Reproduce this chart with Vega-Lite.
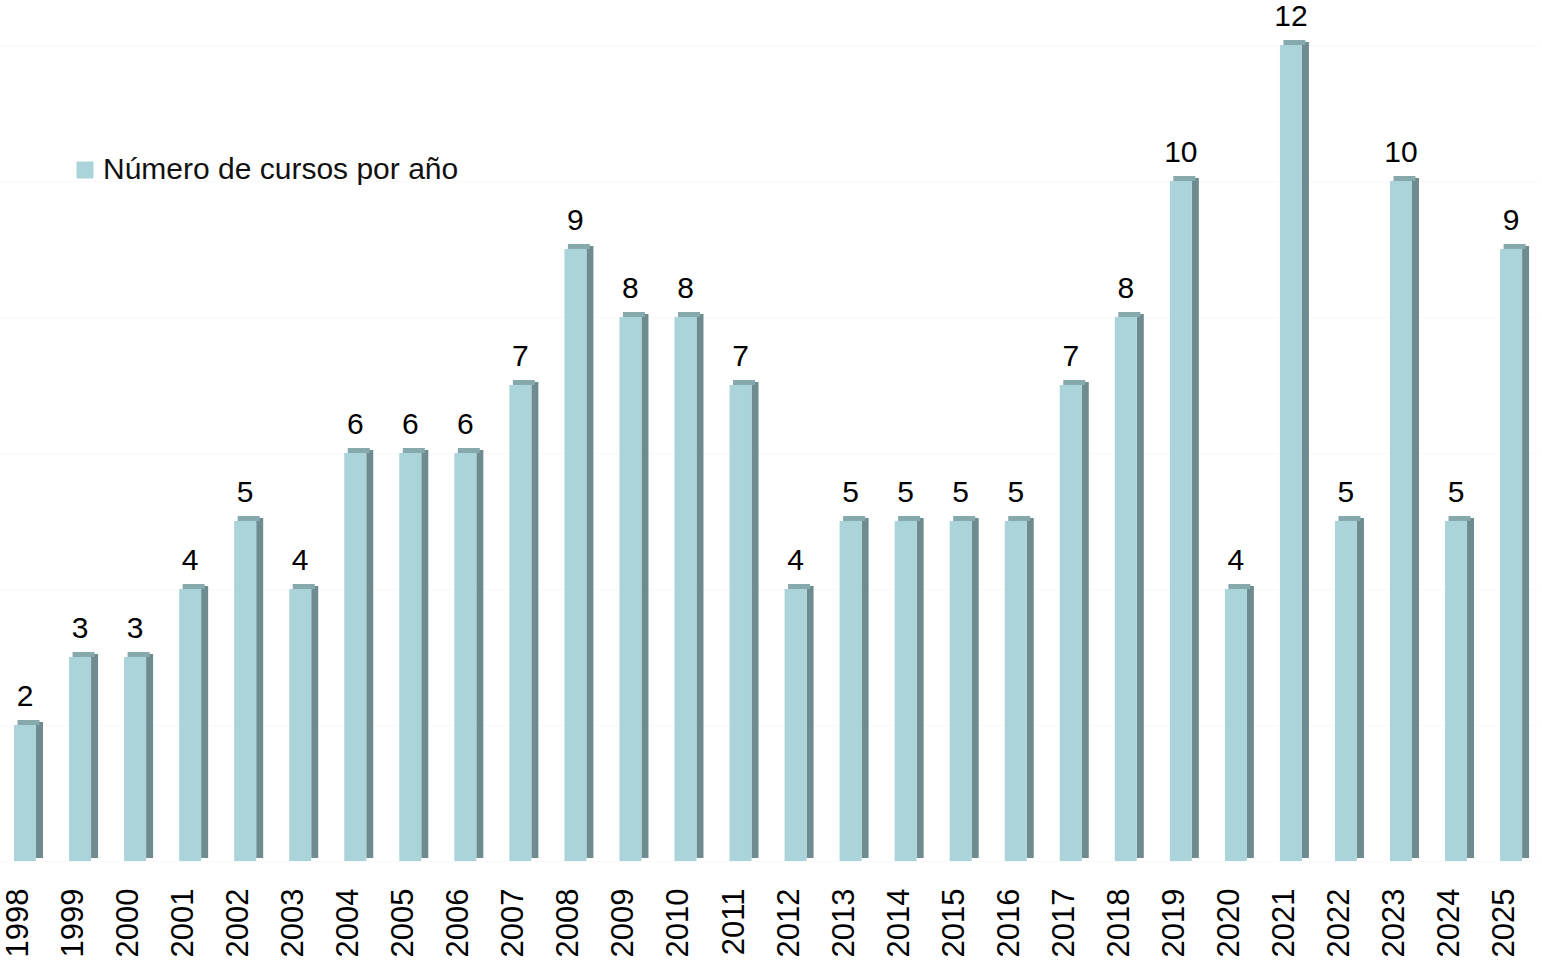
{
  "$schema": "https://vega.github.io/schema/vega-lite/v6.json",
  "width": 1542,
  "height": 816,
  "autosize": "none",
  "padding": {"left": 0, "top": 45, "right": 0, "bottom": 105},
  "background": "white",
  "config": {
    "view": {"stroke": null},
    "font": "Liberation Sans"
  },
  "data": {
    "values": [
      {"year": "1998", "n": 2}, {"year": "1999", "n": 3}, {"year": "2000", "n": 3},
      {"year": "2001", "n": 4}, {"year": "2002", "n": 5}, {"year": "2003", "n": 4},
      {"year": "2004", "n": 6}, {"year": "2005", "n": 6}, {"year": "2006", "n": 6},
      {"year": "2007", "n": 7}, {"year": "2008", "n": 9}, {"year": "2009", "n": 8},
      {"year": "2010", "n": 8}, {"year": "2011", "n": 7}, {"year": "2012", "n": 4},
      {"year": "2013", "n": 5}, {"year": "2014", "n": 5}, {"year": "2015", "n": 5},
      {"year": "2016", "n": 5}, {"year": "2017", "n": 7}, {"year": "2018", "n": 8},
      {"year": "2019", "n": 10}, {"year": "2020", "n": 4}, {"year": "2021", "n": 12},
      {"year": "2022", "n": 5}, {"year": "2023", "n": 10}, {"year": "2024", "n": 5},
      {"year": "2025", "n": 9}
    ]
  },
  "encoding": {
    "x": {
      "field": "year",
      "type": "ordinal",
      "scale": {"range": [-2.5, 1538.6], "paddingInner": 0, "paddingOuter": 0},
      "axis": {
        "title": null,
        "domain": false,
        "ticks": false,
        "labelAngle": -90,
        "labelAlign": "right",
        "labelBaseline": "middle",
        "labelPadding": 27,
        "labelOffset": -6,
        "labelFontSize": 31,
        "labelColor": "#000000",
        "labelFont": "Liberation Sans"
      }
    },
    "y": {
      "field": "n",
      "type": "quantitative",
      "scale": {"domain": [0, 12], "nice": false},
      "axis": {
        "title": null,
        "domain": false,
        "ticks": false,
        "labels": false,
        "grid": true,
        "gridColor": "#F9F9F9",
        "tickCount": 6
      }
    }
  },
  "layer": [
    {
      "mark": {"type": "bar", "width": 7, "xOffset": 14.5, "yOffset": -3, "y2Offset": -3, "color": "#6E8B8F"},
      "encoding": {"y2": {"datum": 0}}
    },
    {
      "mark": {"type": "bar", "width": 22, "xOffset": 3.5, "yOffset": -5, "color": "#86A9AD"},
      "encoding": {"y2": {"field": "n"}}
    },
    {
      "mark": {"type": "bar", "width": 22},
      "encoding": {
        "y2": {"datum": 0},
        "color": {
          "datum": "Número de cursos por año",
          "type": "nominal",
          "scale": {"range": ["#AAD4DA"]},
          "legend": {
            "title": null,
            "orient": "none",
            "legendX": 70,
            "legendY": 110,
            "symbolType": "square",
            "symbolSize": 289,
            "symbolStrokeWidth": 0,
            "labelFontSize": 30,
            "labelLimit": 600,
            "labelColor": "#111111",
            "labelFont": "Liberation Sans",
            "labelOffset": 3
          }
        }
      }
    },
    {
      "mark": {"type": "text", "baseline": "bottom", "dy": -13, "fontSize": 30, "color": "#000000"},
      "encoding": {"text": {"field": "n", "type": "quantitative"}}
    }
  ]
}
